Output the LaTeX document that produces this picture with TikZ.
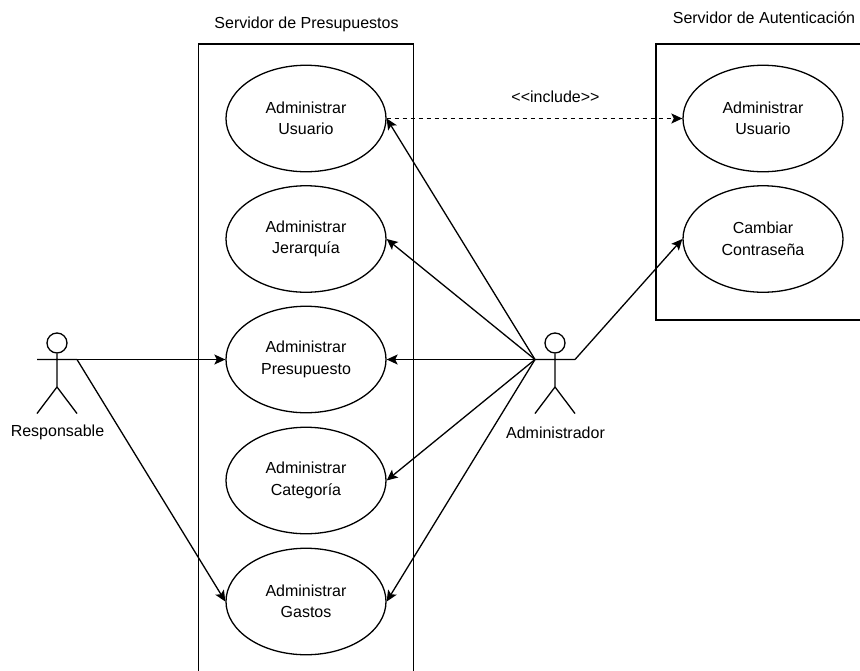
\documentclass[tikz,border=0pt]{standalone}
\usepackage{fontspec}
\setmainfont{Liberation Sans}
\usetikzlibrary{shapes.geometric,arrows.meta}
\tikzset{
  usecase/.style={draw=black,ellipse,minimum width=160pt,minimum height=106.5pt,inner sep=0pt,align=center,line width=1.3pt,font=\fontsize{16}{21.5}\selectfont},
  lbl/.style={inner sep=0pt,align=center,font=\fontsize{16}{18}\selectfont},
  sysbox/.style={draw=black,line width=1.3pt},
  limb/.style={draw=black,line width=1.3pt},
  conn/.style={draw=black,line width=1.3pt,-{Stealth[length=11pt,width=10pt,inset=2.5pt]}},
  dep/.style={conn,dash pattern=on 4pt off 4pt},
}
\begin{document}
\begin{tikzpicture}[x=1pt,y=-1pt]
\useasboundingbox (0,0) rectangle (860,670);
% boxes
\clip (0,0) rectangle (860,670);
\draw[sysbox] (198.5,690) -- (198.5,44) -- (413.5,44) -- (413.5,690);
\draw[sysbox] (880,44) -- (656,44) -- (656,320) -- (880,320);
\node[lbl] (t1) at (306.5,24) {Servidor de Presupuestos};
\node[lbl] (t2) at (764,18) {Servidor de Autenticación};
% use cases
\node[usecase] (u1) at (306,118.5) {Administrar\\Usuario};
\node[usecase] (u2) at (306,239) {Administrar\\Jerarquía};
\node[usecase] (u3) at (306,359.5) {Administrar\\Presupuesto};
\node[usecase] (u4) at (306,480.5) {Administrar\\Categoría};
\node[usecase] (u5) at (306,601.5) {Administrar\\Gastos};
\node[usecase] (r1) at (763,118.5) {Administrar\\Usuario};
\node[usecase] (r2) at (763,239) {Cambiar\\Contraseña};
% actors
\node[draw=black,circle,minimum size=20pt,inner sep=0pt,line width=1.3pt] (h1) at (57,343) {};
\coordinate (al1) at (37,359.5);
\coordinate (ar1) at (77,359.5);
\coordinate (c1) at (57,387);
\coordinate (fl1) at (37,413.5);
\coordinate (fr1) at (77,413.5);
\draw[limb] (h1.south) -- (c1) -- (fl1) (c1) -- (fr1) (al1) -- (ar1);
\node[lbl] (a1) at (57.5,432.5) {Responsable};
\node[draw=black,circle,minimum size=20pt,inner sep=0pt,line width=1.3pt] (h2) at (555,343) {};
\coordinate (al2) at (535,359.5);
\coordinate (ar2) at (575,359.5);
\coordinate (c2) at (555,387);
\coordinate (fl2) at (535,413.5);
\coordinate (fr2) at (575,413.5);
\draw[limb] (h2.south) -- (c2) -- (fl2) (c2) -- (fr2) (al2) -- (ar2);
\node[lbl] (a2) at (555.5,432.5) {Administrador};
% connectors
\draw[conn] (ar1) -- (u3.west);
\draw[conn] (ar1) -- (u5.west);
\draw[conn] (al2) -- (u1.east);
\draw[conn] (al2) -- (u2.east);
\draw[conn] (al2) -- (u3.east);
\draw[conn] (al2) -- (u4.east);
\draw[conn] (al2) -- (u5.east);
\draw[conn] (ar2) -- (r2.west);
\draw[dep] (u1.east) -- (r1.west);
\node[lbl] (inc) at (555.5,97) {<{}<include>{}>};
\end{tikzpicture}
\end{document}
